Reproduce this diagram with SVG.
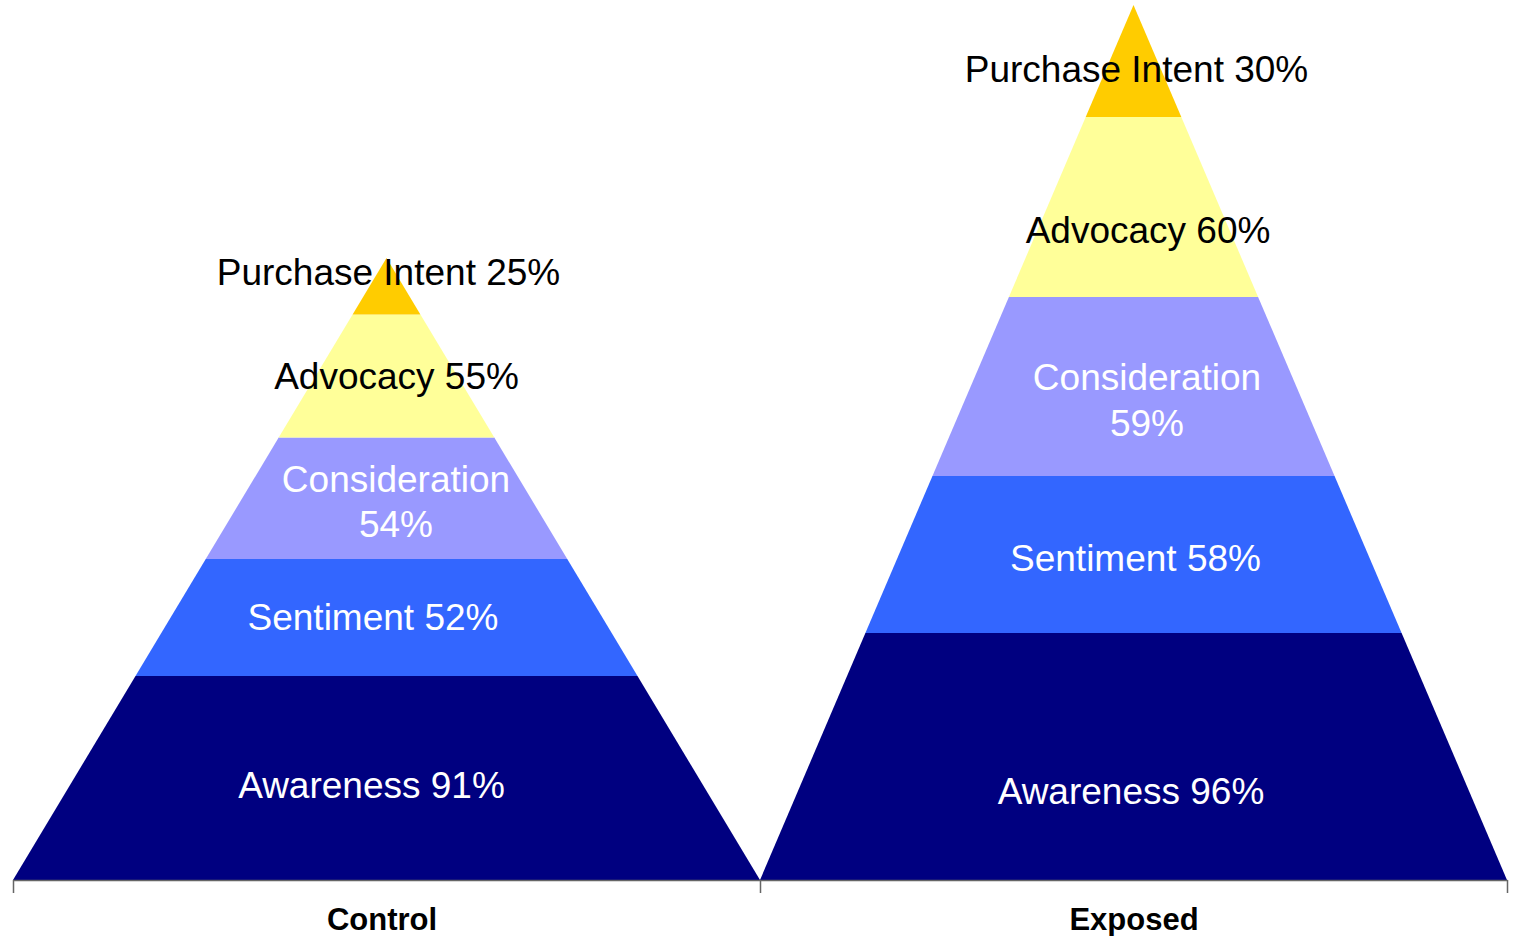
<svg xmlns="http://www.w3.org/2000/svg" width="1532" height="936" viewBox="0 0 1532 936">
  <style>
    .lbl { font-family: "Liberation Sans", Arial, sans-serif; font-size: 37px; text-anchor: middle; }
    .dark { fill: #000000; }
    .light { fill: #ffffff; }
    .cat { font-family: "Liberation Sans", Arial, sans-serif; font-size: 31px; font-weight: bold; text-anchor: middle; fill: #000000; }
    .awareness { fill: #000080; }
    .sentiment { fill: #3366ff; }
    .consideration { fill: #9999ff; }
    .advocacy { fill: #ffff99; }
    .purchase { fill: #ffcc00; }
    .axis { stroke: #666666; stroke-width: 1.5; fill: none; }
  </style>
  <rect width="1532" height="936" fill="#ffffff"/>

  <!-- Control pyramid -->
  <g id="control">
    <g id="control-awareness">
      <polygon class="awareness" points="13,880 760,880 637.5,676 135.5,676"/>
      <text class="lbl light" x="371.5" y="798">Awareness 91%</text>
    </g>
    <g id="control-sentiment">
      <polygon class="sentiment" points="135.5,676 637.5,676 567.25,559 205.75,559"/>
      <text class="lbl light" x="373" y="630">Sentiment 52%</text>
    </g>
    <g id="control-consideration">
      <polygon class="consideration" points="205.75,559 567.25,559 494.3,437.5 278.7,437.5"/>
      <text class="lbl light" x="396" y="492">Consideration</text>
      <text class="lbl light" x="396" y="537">54%</text>
    </g>
    <g id="control-advocacy">
      <polygon class="advocacy" points="278.7,437.5 494.3,437.5 420.4,314.5 352.6,314.5"/>
      <text class="lbl dark" x="396.5" y="389">Advocacy 55%</text>
    </g>
    <g id="control-purchase">
      <polygon class="purchase" points="352.6,314.5 420.4,314.5 386.5,258"/>
      <text class="lbl dark" x="388.5" y="285">Purchase Intent 25%</text>
    </g>
  </g>

  <!-- Exposed pyramid -->
  <g id="exposed">
    <g id="exposed-awareness">
      <polygon class="awareness" points="760,880 1507,880 1401.6,633 865.4,633"/>
      <text class="lbl light" x="1131" y="804">Awareness 96%</text>
    </g>
    <g id="exposed-sentiment">
      <polygon class="sentiment" points="865.4,633 1401.6,633 1334.55,476 932.45,476"/>
      <text class="lbl light" x="1135.5" y="571">Sentiment 58%</text>
    </g>
    <g id="exposed-consideration">
      <polygon class="consideration" points="932.45,476 1334.55,476 1258.1,297 1008.9,297"/>
      <text class="lbl light" x="1147" y="390">Consideration</text>
      <text class="lbl light" x="1147" y="436">59%</text>
    </g>
    <g id="exposed-advocacy">
      <polygon class="advocacy" points="1008.9,297 1258.1,297 1181.3,117 1085.7,117"/>
      <text class="lbl dark" x="1148" y="243">Advocacy 60%</text>
    </g>
    <g id="exposed-purchase">
      <polygon class="purchase" points="1085.7,117 1181.3,117 1133.5,5"/>
      <text class="lbl dark" x="1136.5" y="82">Purchase Intent 30%</text>
    </g>
  </g>

  <!-- Category axis -->
  <g id="axis">
    <path class="axis" d="M13,880.5 H1507.5 M13.5,880 V893 M760.5,880 V893 M1507.5,880 V893"/>
    <text class="cat" x="382" y="930">Control</text>
    <text class="cat" x="1134" y="930">Exposed</text>
  </g>
</svg>
